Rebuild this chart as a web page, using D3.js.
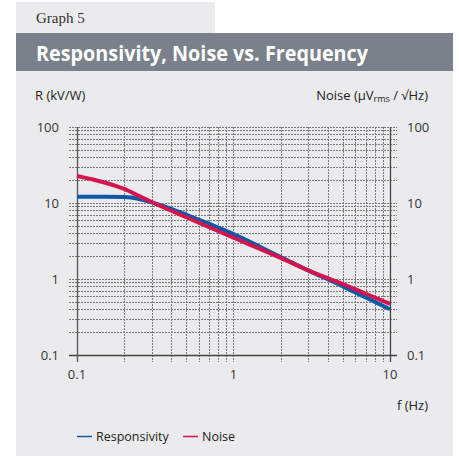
<!DOCTYPE html>
<html><head><meta charset="utf-8">
<script src="https://cdn.jsdelivr.net/npm/d3@7"></script>
<style>body{margin:0;background:#fff}svg{display:block}</style>
</head><body>
<svg id="c" width="459" height="456"></svg>
<script>
const freq = [0.1, 0.15, 0.2, 0.25, 0.3, 0.4, 0.5, 0.7, 1, 2, 3, 5, 7, 10];
const responsivity = [12.1, 12.1, 12.0, 11.3, 10.2, 8.4, 7.0, 5.3, 3.9, 1.95, 1.3, 0.8, 0.57, 0.40];
const noise = [22.7, 18.6, 15.3, 12.3, 10.3, 7.9, 6.5, 4.8, 3.5, 1.9, 1.3, 0.86, 0.64, 0.47];
const xTicks = [0.1, 1, 10];
const yTicks = [0.1, 1, 10, 100];
const seriesNames = ["Responsivity", "Noise"];
const colors = ["#0a5aa8", "#d4144e"];

const svg = d3.select("#c");
const font = "'Open Sans', sans-serif";
// panel
svg.append("rect").attr("x",16).attr("y",2).attr("width",199).attr("height",32).attr("fill","#ebebed");
svg.append("rect").attr("x",16).attr("y",33).attr("width",437).attr("height",38).attr("fill","#7a818a");
svg.append("rect").attr("x",16).attr("y",71).attr("width",437).attr("height",385).attr("fill","#ebebed");
svg.append("text").attr("x",36).attr("y",23).attr("font-family","'Liberation Serif', serif").attr("font-size",15).attr("fill","#333").text("Graph 5");
svg.append("text").attr("x",36).attr("y",61).attr("font-family",font).attr("font-weight","bold").attr("font-size",21)
  .attr("textLength",332).attr("lengthAdjust","spacingAndGlyphs").attr("fill","#fff").text("Responsivity, Noise vs. Frequency");

const x = d3.scaleLog().domain([0.1,10]).range([77,390]);
const y = d3.scaleLog().domain([0.1,100]).range([355,127]);

// grid
const g = svg.append("g");
const yGrid = [];
for (let e=-1;e<2;e++) for (let k=1;k<=9;k++) { const v=k*Math.pow(10,e); if (v>0.1) yGrid.push(v);} yGrid.push(100);
const xGrid = [];
for (let e=-1;e<1;e++) for (let k=1;k<=9;k++) { const v=k*Math.pow(10,e); if (v>0.1) xGrid.push(v);} 
g.selectAll(".hg").data(yGrid).join("line").attr("x1",69).attr("x2",397)
  .attr("y1",d=>Math.round(y(d))+0.5).attr("y2",d=>Math.round(y(d))+0.5)
  .attr("stroke","#7a7a7a").attr("stroke-width",1).attr("stroke-dasharray","2,1");
g.selectAll(".vg").data(xGrid).join("line").attr("y1",127).attr("y2",362)
  .attr("x1",d=>Math.round(x(d))+0.5).attr("x2",d=>Math.round(x(d))+0.5)
  .attr("stroke","#7a7a7a").attr("stroke-width",1).attr("stroke-dasharray","2,1");
// axes
g.append("line").attr("x1",69).attr("x2",397).attr("y1",355.5).attr("y2",355.5).attr("stroke","#444").attr("stroke-width",1.3);
g.append("line").attr("x1",77.5).attr("x2",77.5).attr("y1",127).attr("y2",362).attr("stroke","#555").attr("stroke-width",1.3);
g.append("line").attr("x1",390.5).attr("x2",390.5).attr("y1",127).attr("y2",362).attr("stroke","#444").attr("stroke-width",1.3);

const fmt = d => String(d);
svg.selectAll(".yl").data(yTicks).join("text").attr("x",59).attr("y",d=>y(d)+5)
  .attr("text-anchor","end").attr("font-family",font).attr("font-size",13).attr("fill","#333").text(fmt);
svg.selectAll(".yr").data(yTicks).join("text").attr("x",407).attr("y",d=>y(d)+5)
  .attr("text-anchor","start").attr("font-family",font).attr("font-size",13).attr("fill","#333").text(fmt);
svg.selectAll(".xl").data(xTicks).join("text").attr("x",d=>x(d)).attr("y",379)
  .attr("text-anchor","middle").attr("font-family",font).attr("font-size",13).attr("fill","#333").text(fmt);

svg.append("text").attr("x",35).attr("y",100).attr("font-family",font).attr("font-size",13).attr("fill","#222").text("R (kV/W)");
const nt = svg.append("text").attr("x",428).attr("y",100).attr("text-anchor","end").attr("font-family",font).attr("font-size",13).attr("fill","#222");
nt.append("tspan").text("Noise (µV");
nt.append("tspan").attr("font-size",9).attr("dy",2).text("rms");
nt.append("tspan").attr("dy",-2).text(" / √Hz)");
svg.append("text").attr("x",428).attr("y",410).attr("text-anchor","end").attr("font-family",font).attr("font-size",13).attr("fill","#222").text("f (Hz)");

const line = d3.line().x(d=>x(d[0])).y(d=>y(d[1])).curve(d3.curveMonotoneX);
[responsivity, noise].forEach((s,i)=>{
  svg.append("path").attr("d", line(freq.map((f,j)=>[f,s[j]]))).attr("fill","none")
    .attr("stroke",colors[i]).attr("stroke-width",4).attr("stroke-linejoin","round");
});

// legend
const lx = [77, 183];
seriesNames.forEach((n,i)=>{
  svg.append("line").attr("x1",lx[i]).attr("x2",lx[i]+15).attr("y1",436.5).attr("y2",436.5).attr("stroke",colors[i]).attr("stroke-width",1.5);
  svg.append("text").attr("x",lx[i]+19).attr("y",441).attr("font-family",font).attr("font-size",12.5).attr("fill","#222").text(n);
});
</script>
</body></html>
